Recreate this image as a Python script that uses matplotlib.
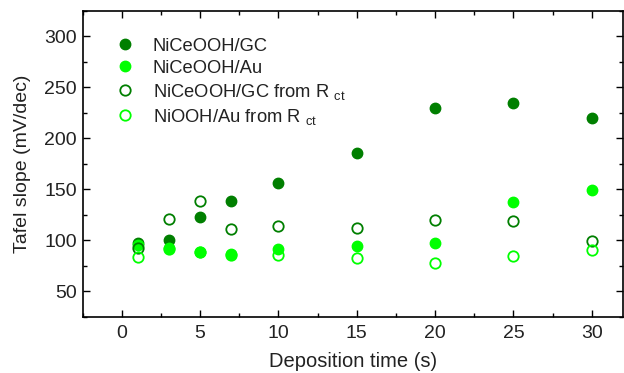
import matplotlib
matplotlib.use("Agg")
import matplotlib.pyplot as plt
from matplotlib.ticker import MultipleLocator

plt.rcParams['font.family'] = ['Liberation Sans', 'DejaVu Sans']
plt.rcParams['mathtext.fontset'] = 'custom'
plt.rcParams['mathtext.rm'] = 'Liberation Sans'
plt.rcParams['mathtext.it'] = 'Liberation Sans'

x_time = [1, 3, 5, 7, 10, 15, 20, 25, 30]
gc_filled = [97, 100, 123, 139, 156, 186, 230, 235, 220]
au_filled = [95, 92, 88, 86.5, 91.5, 94, 97, 138, 149]
gc_rct = [92, 121, 139, 111, 114, 112, 120, 119, 99]
au_rct = [84, 91, 88, 86, 86, 83, 78, 85, 90]

labels = ['NiCeOOH/GC', 'NiCeOOH/Au',
          'NiCeOOH/GC from R $_{\\rm ct}$', 'NiOOH/Au from R $_{\\rm ct}$']
dark = '#007F00'
light = '#00FF00'
txt = '#222222'

fig = plt.figure(figsize=(6.24, 3.73), dpi=100)
ax = fig.add_axes([0.1325, 0.151, 0.866, 0.8195])

ms = 7.5
ax.plot(x_time, gc_filled, 'o', color=dark, ms=ms, mec=dark, label=labels[0])
ax.plot(x_time, au_filled, 'o', color=light, ms=ms, mec=light, label=labels[1])
ax.plot(x_time, gc_rct, 'o', mfc='none', mec=dark, mew=1.3, ms=ms, label=labels[2])
ax.plot(x_time, au_rct, 'o', mfc='none', mec=light, mew=1.3, ms=ms, label=labels[3])

ax.set_xlim(-2.5, 32)
ax.set_ylim(25, 325)
ax.xaxis.set_major_locator(MultipleLocator(5))
ax.xaxis.set_minor_locator(MultipleLocator(2.5))
ax.yaxis.set_major_locator(MultipleLocator(50))
ax.yaxis.set_minor_locator(MultipleLocator(25))
ax.tick_params(which='both', direction='in', top=True, right=True,
               labelsize=14, labelcolor=txt, width=1)
ax.tick_params(which='major', length=5)
ax.tick_params(which='minor', length=3)
ax.tick_params(axis='x', pad=6)
ax.tick_params(axis='y', pad=4)
for s in ax.spines.values():
    s.set_linewidth(1.2)

ax.set_xlabel('Deposition time (s)', fontsize=14.5, color=txt, labelpad=7)
ax.set_ylabel('Tafel slope (mV/dec)', fontsize=14, color=txt, labelpad=10)

leg = ax.legend(loc='upper left', bbox_to_anchor=(0.062, 0.912), frameon=False,
                fontsize=13.2, handlelength=1.0, handletextpad=1.0,
                labelspacing=0.27, borderaxespad=0, borderpad=0)
for t in leg.get_texts():
    t.set_color(txt)

fig.savefig('out.png', dpi=100)
